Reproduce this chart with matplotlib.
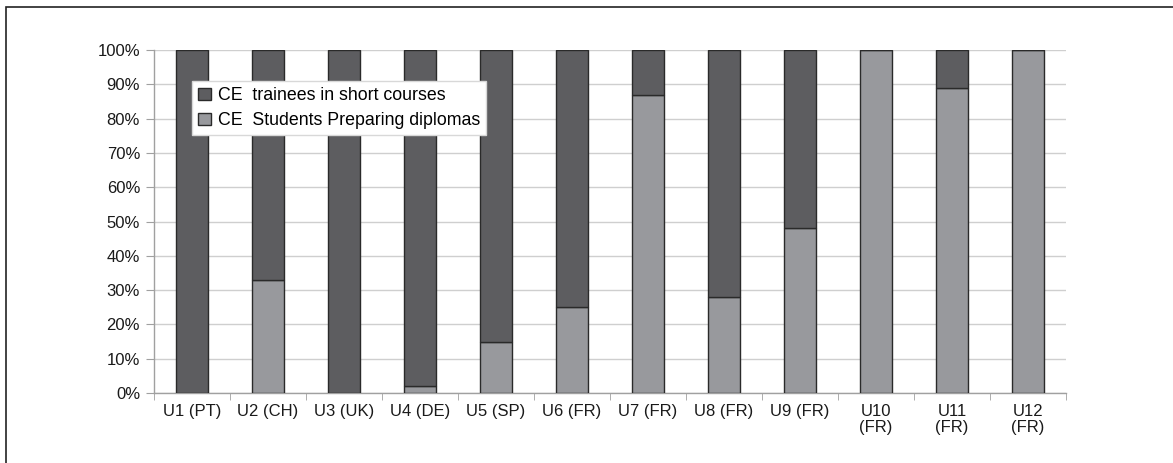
import numpy as np
import matplotlib.pyplot as plt
from matplotlib.patches import Rectangle

plt.rcParams['font.family'] = ['Liberation Sans', 'DejaVu Sans']

# universities (country) and share of CE students preparing diplomas, in %
units = ['U1 (PT)', 'U2 (CH)', 'U3 (UK)', 'U4 (DE)', 'U5 (SP)', 'U6 (FR)',
         'U7 (FR)', 'U8 (FR)', 'U9 (FR)', 'U10\n(FR)', 'U11\n(FR)', 'U12\n(FR)']
diplomas = [0, 33, 0, 2, 15, 25, 87, 28, 48, 100, 89, 100]
short_courses = [100 - d for d in diplomas]

dark = '#5d5d60'
light = '#98999d'
edge = '#2a2a2a'

fig = plt.figure(figsize=(11.73, 4.63), dpi=100)
# outer frame around the figure
fig.patches.append(Rectangle((6 / 1173, -0.05), 1.2, 1.05 - 7 / 463,
                             transform=fig.transFigure, fill=False,
                             edgecolor='#222222', linewidth=1.2))

ax = fig.add_axes([154 / 1173, 70 / 463, 912 / 1173, 343 / 463])

x = np.arange(len(units))
ax.bar(x, diplomas, width=0.43, color=light, edgecolor=edge, linewidth=1,
       label='CE  Students Preparing diplomas', zorder=3)
ax.bar(x, short_courses, width=0.43, bottom=diplomas, color=dark,
       edgecolor=edge, linewidth=1, label='CE  trainees in short courses',
       zorder=3)

ax.set_xlim(-0.5, len(units) - 0.5)
ax.set_ylim(0, 100)
ax.set_yticks(np.arange(0, 101, 10))
ax.set_yticklabels([f'{v}%' for v in range(0, 101, 10)])
ax.yaxis.grid(True, color='#cfcfcf', linewidth=1)
ax.set_axisbelow(True)

ax.set_xticks(x)
ax.set_xticklabels(units, linespacing=1.05)
ax.set_xticks(np.arange(-0.5, len(units), 1), minor=True)
ax.tick_params(axis='x', which='major', length=0, pad=8)
ax.tick_params(axis='x', which='minor', length=5, color='#a0a0a0')
ax.tick_params(axis='y', length=6, color='#a0a0a0', pad=4)
ax.tick_params(labelsize=12, labelcolor='#1a1a1a')

for side in ['top', 'right']:
    ax.spines[side].set_visible(False)
for side in ['left', 'bottom']:
    ax.spines[side].set_color('#a0a0a0')
    ax.spines[side].set_linewidth(1)

handles, labels = ax.get_legend_handles_labels()
leg = ax.legend(handles[::-1], labels[::-1], loc='upper left',
                bbox_to_anchor=(38 / 912, 312 / 343), fontsize=12.8,
                frameon=True, fancybox=False, framealpha=1,
                edgecolor='#d8d8d8', handlelength=0.7, handleheight=0.7,
                handletextpad=0.4, borderpad=0.35, labelspacing=0.45,
                borderaxespad=0)
leg.set_zorder(5)

fig.savefig('out.png', dpi=100)
